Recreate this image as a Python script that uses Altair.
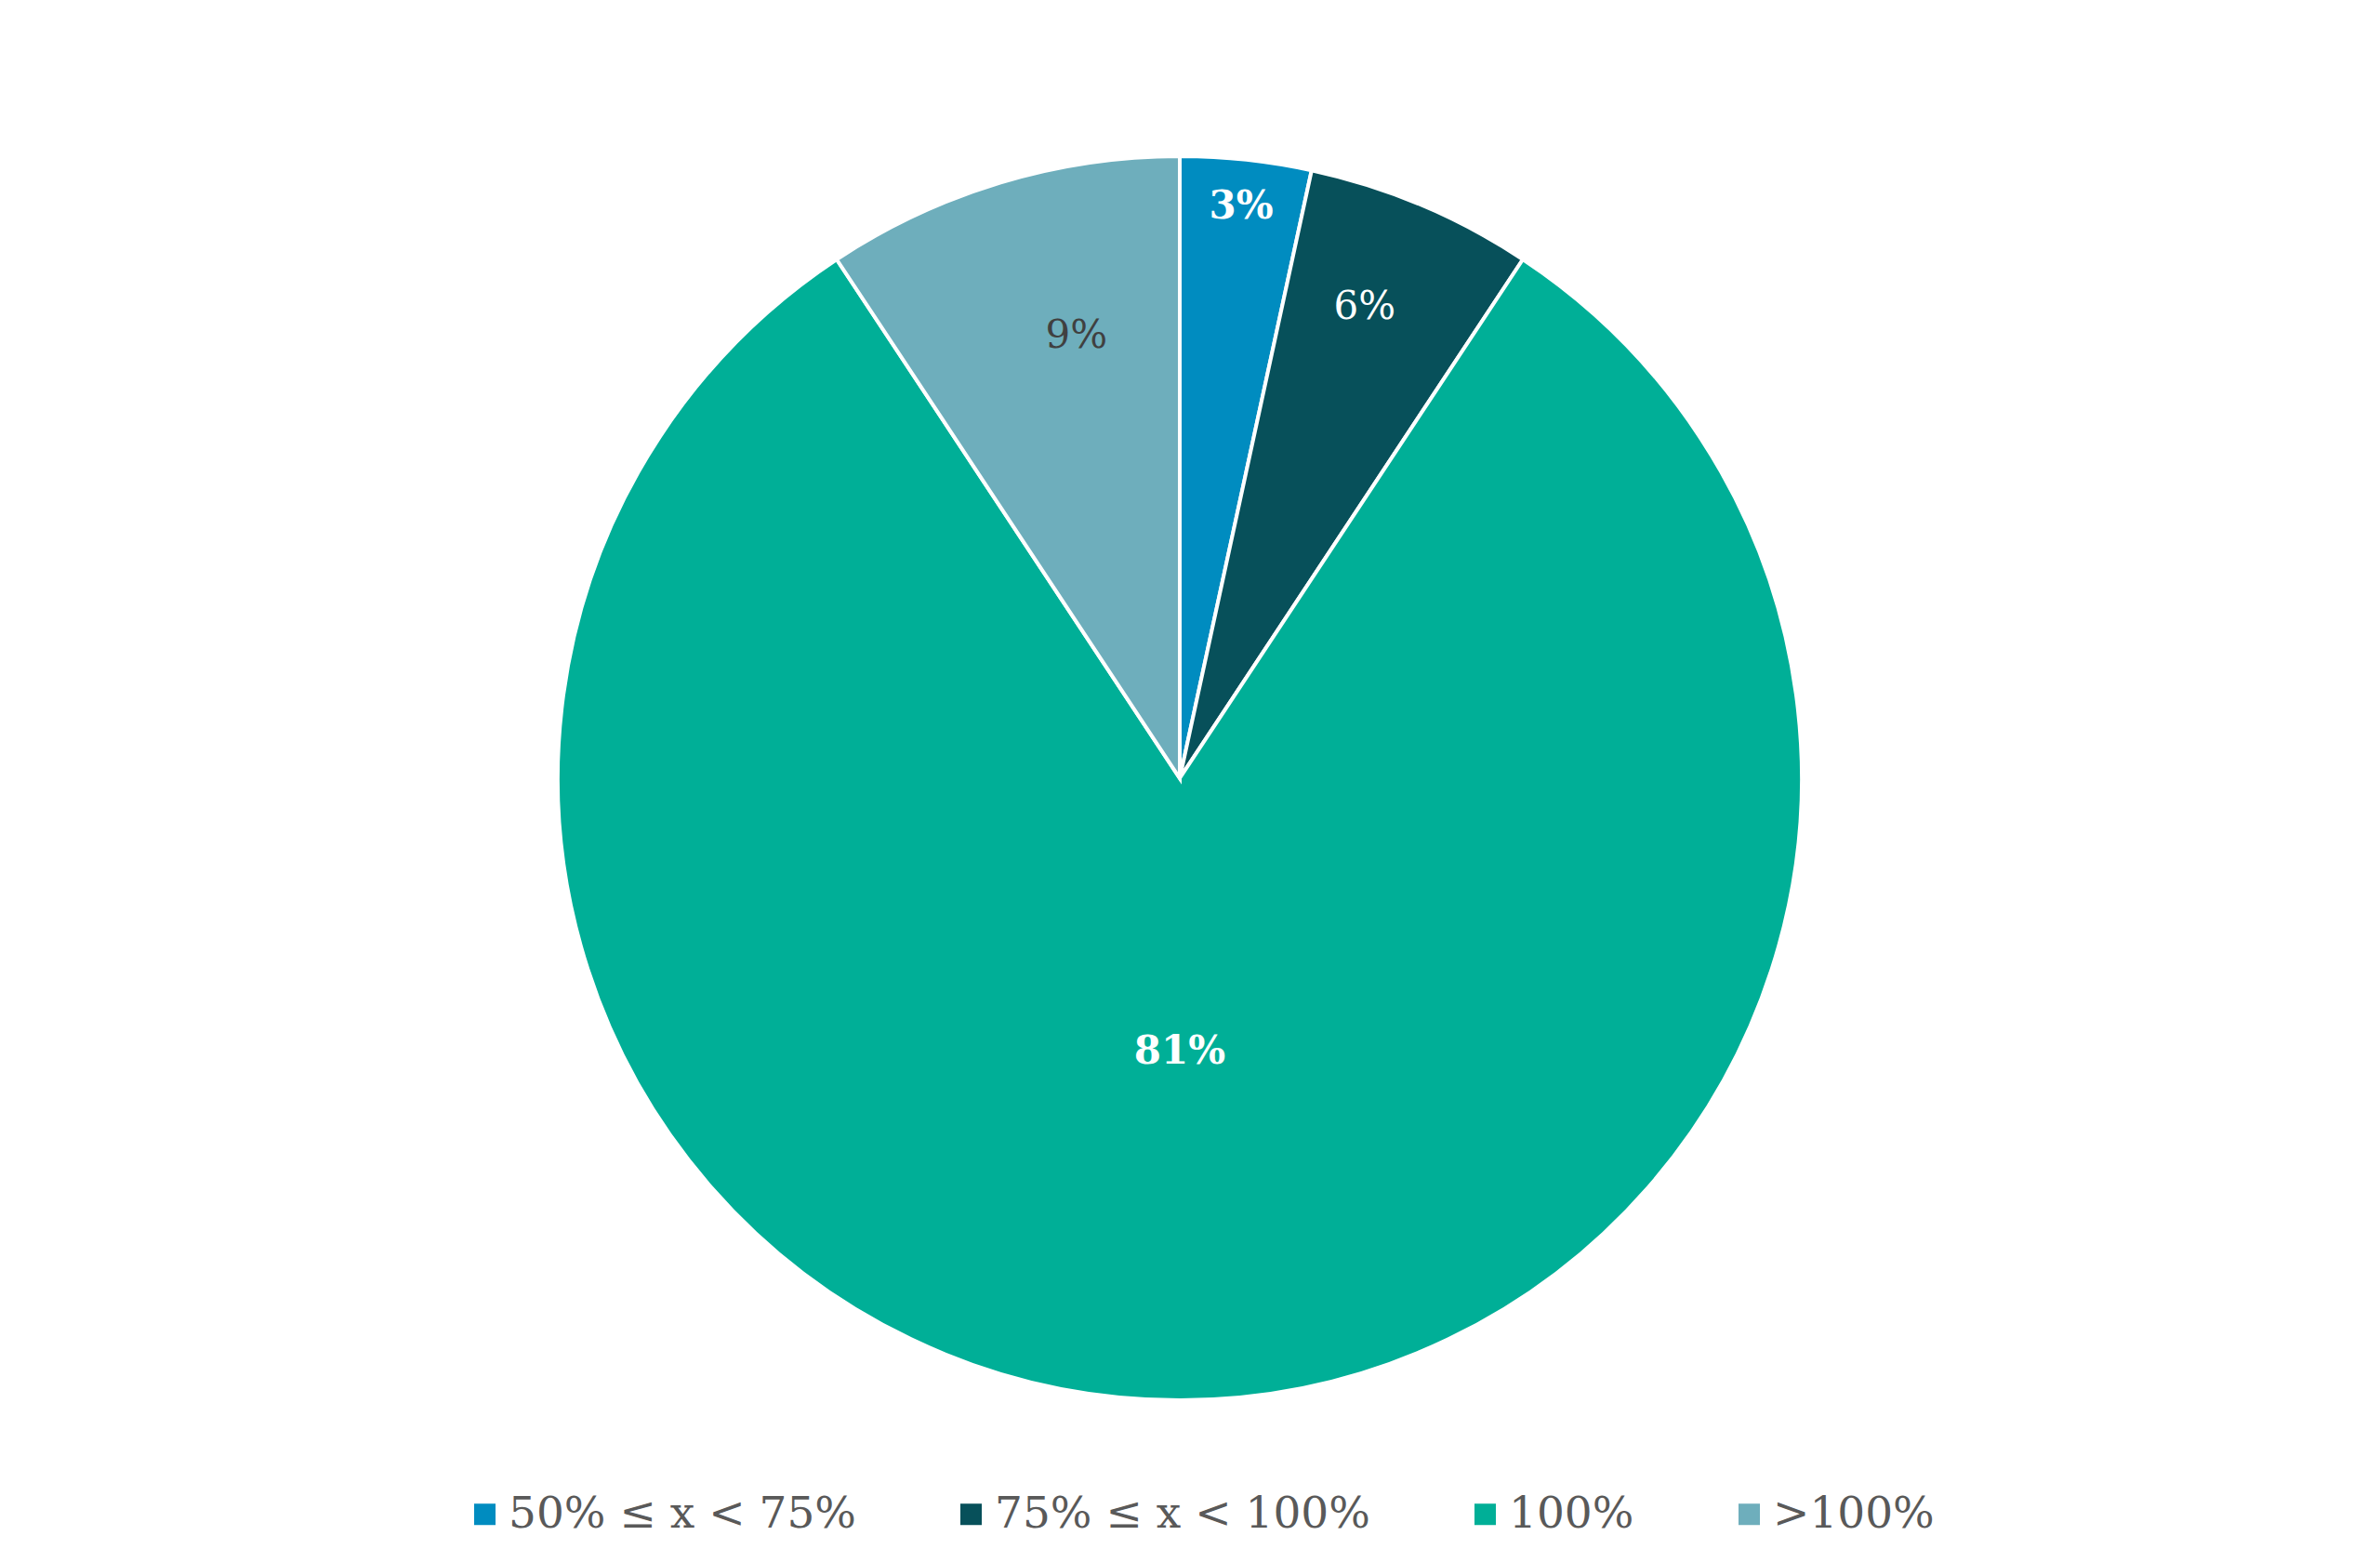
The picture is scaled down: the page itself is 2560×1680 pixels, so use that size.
import altair as alt
import pandas as pd

categories = ["50% ≤ x < 75%", "75% ≤ x < 100%", "100%", ">100%"]
values = [3.4, 5.9, 81.4, 9.3]
labels = ["3%", "6%", "81%", "9%"]
colors = ["#008CC0", "#07505A", "#00AF97", "#6EAEBC"]

df = pd.DataFrame({"category": categories, "value": values, "label": labels,
                   "idx": list(range(len(categories)))})

FONT = "DejaVu Serif"

color_scale = alt.Scale(domain=categories, range=colors)

arcs = alt.Chart(df).mark_arc(radius=669, stroke="white", strokeWidth=4).encode(
    theta=alt.Theta("value:Q", stack=True),
    order=alt.Order("idx:Q"),
    color=alt.Color("category:N", scale=color_scale, sort=categories,
                    legend=alt.Legend(
                        title=None, orient="none", direction="horizontal",
                        legendX=490, legendY=1597,
                        symbolType="square", symbolSize=529, symbolStrokeWidth=0,
                        labelFont=FONT, labelFontSize=47, labelColor="#595959",
                        labelOffset=2, columnPadding=100, labelLimit=1000)),
)

# label styling per slice: (radius, weight, colour, dx, dy)
label_style = {
    "3%": (619, "bold", "white", 0, 0),
    "6%": (545, "normal", "white", -13, -5),
    "81%": (294, "bold", "white", 0, 0),
    "9%": (487, "normal", "#404040", 29, -10),
}

layers = [arcs]
for lab in labels:
    r, w, c, ddx, ddy = label_style[lab]
    t = alt.Chart(df).transform_window(
        cum="sum(value)", sort=[alt.SortField("idx")], frame=[None, 0]
    ).transform_calculate(
        mid="datum.cum - datum.value / 2"
    ).transform_filter(
        alt.datum.label == lab
    ).mark_text(radius=r, font=FONT, fontSize=42, fontWeight=w, color=c,
                align="center", baseline="middle", dx=ddx, dy=ddy).encode(
        theta=alt.Theta("mid:Q", stack=None),
        text="label:N",
    )
    layers.append(t)

chart = alt.layer(*layers).properties(
    width=2522, height=1658, padding=0, autosize="none"
).configure_view(stroke=None)

chart.save("out.html", embed_options={"renderer": "svg", "actions": False})
